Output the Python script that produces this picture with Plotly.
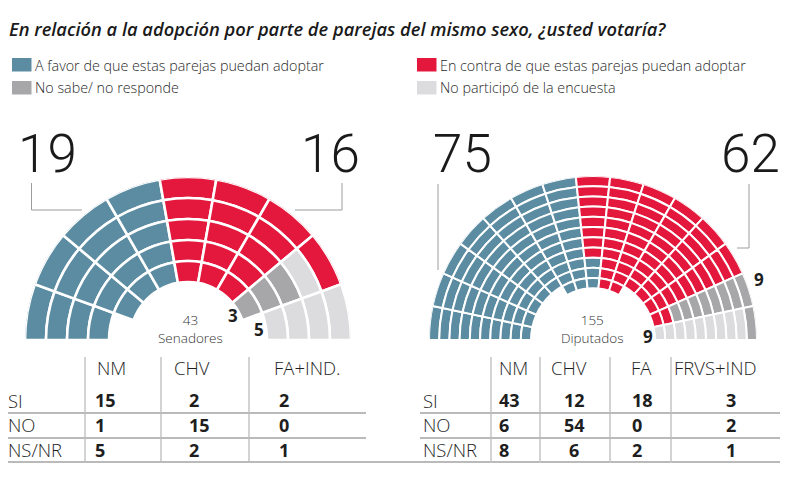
import plotly.graph_objects as go

# page body adds an 8px margin; the figure is sized so that the page is 788x490
OFF = 8
W, H = 788 - OFF, 490 - OFF

# ---------------- data ----------------
TITLE = "En relación a la adopción por parte de parejas del mismo sexo, ¿usted votaría?"
cat_codes = ["A", "B", "C", "D"]
cat_labels = ["A favor de que estas parejas puedan adoptar",
              "En contra de que estas parejas puedan adoptar",
              "No sabe/ no responde",
              "No participó de la encuesta"]
cat_colors = ["#5b8ca2", "#e3183c", "#a7a7a9", "#dcdcde"]

# Senado: 43 seats, 19 a favor, 16 en contra, 3 NS/NR, 5 no participó
senado_total = 43
senado_big = [19, 16]
senado_small = [3, 5]
# seat map per wedge (left -> right), each string lists rings from outer to inner
senado_wedges = ["AAAA", "AAAAA", "AAAAA", "AAAAA",
                 "BBBBB", "BBBBB", "BBBBB", "BDCCC", "DDDD"]

# Diputados: 155 seats, 75 a favor, 62 en contra, 9 NS/NR, 9 no participó
diputados_total = 155
diputados_big = [75, 62]
diputados_small = [9, 9]
diputados_wedges = ["AAAAAAAAAA", "AAAAAAAAAA", "AAAAAAAAAA", "AAAAAAAAAA",
                    "AAAAAAAAAA", "AAAAAAAAAAA", "AAAAAAAAAAA", "BBBBBBBBAAA",
                    "BBBBBBBBBBB", "BBBBBBBBBBB", "BBBBBBBBBB", "BBBBBBBBBB",
                    "BBBBBBBBBB", "CCCCCCCCBB", "CDDDDDDDDD"]

row_labels = ["SI", "NO", "NS/NR"]
senado_cols = ["NM", "CHV", "FA+IND."]
senado_vals = [[15, 2, 2], [1, 15, 0], [5, 2, 1]]
diputados_cols = ["NM", "CHV", "FA", "FRVS+IND"]
diputados_vals = [[43, 12, 18, 3], [6, 54, 0, 2], [8, 6, 2, 1]]

# ---------------- helpers ----------------
def px(x):
    return (x - OFF) / W


def py(y):
    return 1 - (y - OFF) / H


fig = go.Figure()


def add_chamber(wedges, subplot, outer, pitch, gap):
    n = len(wedges)
    step = 180.0 / n
    for code, label, color in zip(cat_codes, cat_labels, cat_colors):
        th, wd, bs, rr = [], [], [], []
        for i, s in enumerate(wedges):
            for j, c in enumerate(s):
                if c == code:
                    th.append(180 - step * (i + 0.5))
                    wd.append(step)
                    bs.append(outer - pitch * (j + 1))
                    rr.append(pitch)
        fig.add_trace(go.Barpolar(
            theta=th, width=wd, base=bs, r=rr, subplot=subplot,
            name=label, showlegend=False, hoverinfo="name",
            marker=dict(color=color, line=dict(color="white", width=gap)),
        ))


S_CX, S_CY, S_R = 188, 340, 163
D_CX, D_CY, D_R = 593, 340, 164
add_chamber(senado_wedges, "polar", S_R, 21.0, 2.6)
add_chamber(diputados_wedges, "polar2", D_R, 10.2, 2.0)


def polar_layout(cx, cy, r):
    return dict(
        domain=dict(x=[px(cx - r), px(cx + r)], y=[py(cy), py(cy - r)]),
        sector=[0, 180], hole=0, bgcolor="white", barmode="overlay",
        radialaxis=dict(visible=False, range=[0, r]),
        angularaxis=dict(visible=False, direction="counterclockwise", rotation=0),
    )


annotations = []
shapes = []
TXT = "#1e1e1e"
FONT = "Open Sans, Liberation Sans, sans-serif"


def text(x, y, s, size, weight=400, xanchor="left", color=TXT, family=FONT, style="normal"):
    annotations.append(dict(
        x=px(x), y=py(y), xref="paper", yref="paper", text=s, showarrow=False,
        xanchor=xanchor, yanchor="middle",
        font=dict(size=size, color=color, family=family, weight=weight, style=style),
    ))


def line(x0, y0, x1, y1, color, width):
    shapes.append(dict(type="line", xref="paper", yref="paper",
                       x0=px(x0), y0=py(y0), x1=px(x1), y1=py(y1),
                       line=dict(color=color, width=width)))


# title
text(7, 29, TITLE, 18.3, weight=600, style="italic", color="#1a1a1a")

# legend (2 x 2)
leg_pos = [(12, 65), (417, 65), (12, 88), (417, 88)]
for (lx, ly), lab, col in zip(leg_pos, cat_labels, cat_colors):
    shapes.append(dict(type="rect", xref="paper", yref="paper",
                       x0=px(lx), x1=px(lx + 19.5), y0=py(ly + 6.5), y1=py(ly - 7),
                       fillcolor=col, line=dict(width=0)))
    text(lx + 21, ly, lab, 14.3, weight=300, color="#2a2a2a")

# big numbers + leaders
BIG = "Roboto, Liberation Sans, sans-serif"
BIGC = "#1a1a1a"
text(16, 154, str(senado_big[0]), 53, weight=300, xanchor="left", family=BIG, color=BIGC)
text(362, 154, str(senado_big[1]), 53, weight=300, xanchor="right", family=BIG, color=BIGC)
text(431, 154, str(diputados_big[0]), 53, weight=300, xanchor="left", family=BIG, color=BIGC)
text(782, 154, str(diputados_big[1]), 53, weight=300, xanchor="right", family=BIG, color=BIGC)
LC = "#9c9c9c"
line(31.5, 183, 31.5, 210, LC, 1)
line(31.5, 210, 82, 210, LC, 1)
line(342, 183, 342, 210, LC, 1)
line(295, 210, 342, 210, LC, 1)
line(438, 184, 438, 270, LC, 1)
line(749, 184, 749, 248, LC, 1)
line(737, 248, 749, 248, LC, 1)

# centre labels
text(190, 328.5, f"{senado_total}<br>Senadores", 13.5, weight=300, xanchor="center", color="#333")
text(233, 315, str(senado_small[0]), 17, weight=700, xanchor="center")
text(259, 329, str(senado_small[1]), 17, weight=700, xanchor="center")
text(592, 328.5, f"{diputados_total}<br>Diputados", 13.5, weight=300, xanchor="center", color="#333")
text(759, 279, str(diputados_small[0]), 17, weight=700, xanchor="center")
text(648, 336, str(diputados_small[1]), 17, weight=700, xanchor="center")

# tables
GC = "#bababa"
row_y = [400, 424.5, 449.5]
HEAD_Y = 367.5
LAB = 18.5
# senado
for cx, lab in zip([95, 172, 272], senado_cols):
    text(cx, HEAD_Y, lab, LAB, weight=300)
for ry, lab in zip(row_y, row_labels):
    text(6, ry, lab, LAB, weight=300)
s_val_x = [93, 187, 277]
for ry, vals in zip(row_y, senado_vals):
    for vx, v in zip(s_val_x, vals):
        text(vx, ry, str(v), 18, weight=700)
for vx in [85, 161, 249]:
    line(vx, 357, vx, 461, "#c4c4c4", 1.5)
line(7, 413, 366, 413, GC, 2)
line(7, 438, 366, 438, GC, 2)
line(7, 462, 780, 462, GC, 2)
# diputados
for cx, lab in zip([497, 549, 629, 672], diputados_cols):
    text(cx, HEAD_Y, lab, LAB, weight=300)
for ry, lab in zip(row_y, row_labels):
    text(421, ry, lab, LAB, weight=300)
d_val_x = [(497, "left"), (574, "center"), (630, "left"), (731, "center")]
for ry, vals in zip(row_y, diputados_vals):
    for (vx, anc), v in zip(d_val_x, vals):
        text(vx, ry, str(v), 18, weight=700, xanchor=anc)
for vx in [491, 540, 610, 671]:
    line(vx, 357, vx, 463, "#c4c4c4", 1.5)
line(420, 413, 780, 413, GC, 2)
line(420, 438, 780, 438, GC, 2)

fig.update_layout(
    width=W, height=H,
    margin=dict(l=0, r=0, t=0, b=0),
    paper_bgcolor="white", plot_bgcolor="white",
    polar=polar_layout(S_CX, S_CY, S_R),
    polar2=polar_layout(D_CX, D_CY, D_R),
    annotations=annotations, shapes=shapes,
    showlegend=False,
    font=dict(family=FONT),
)

fig.write_html("out.html", config={"displayModeBar": False})
